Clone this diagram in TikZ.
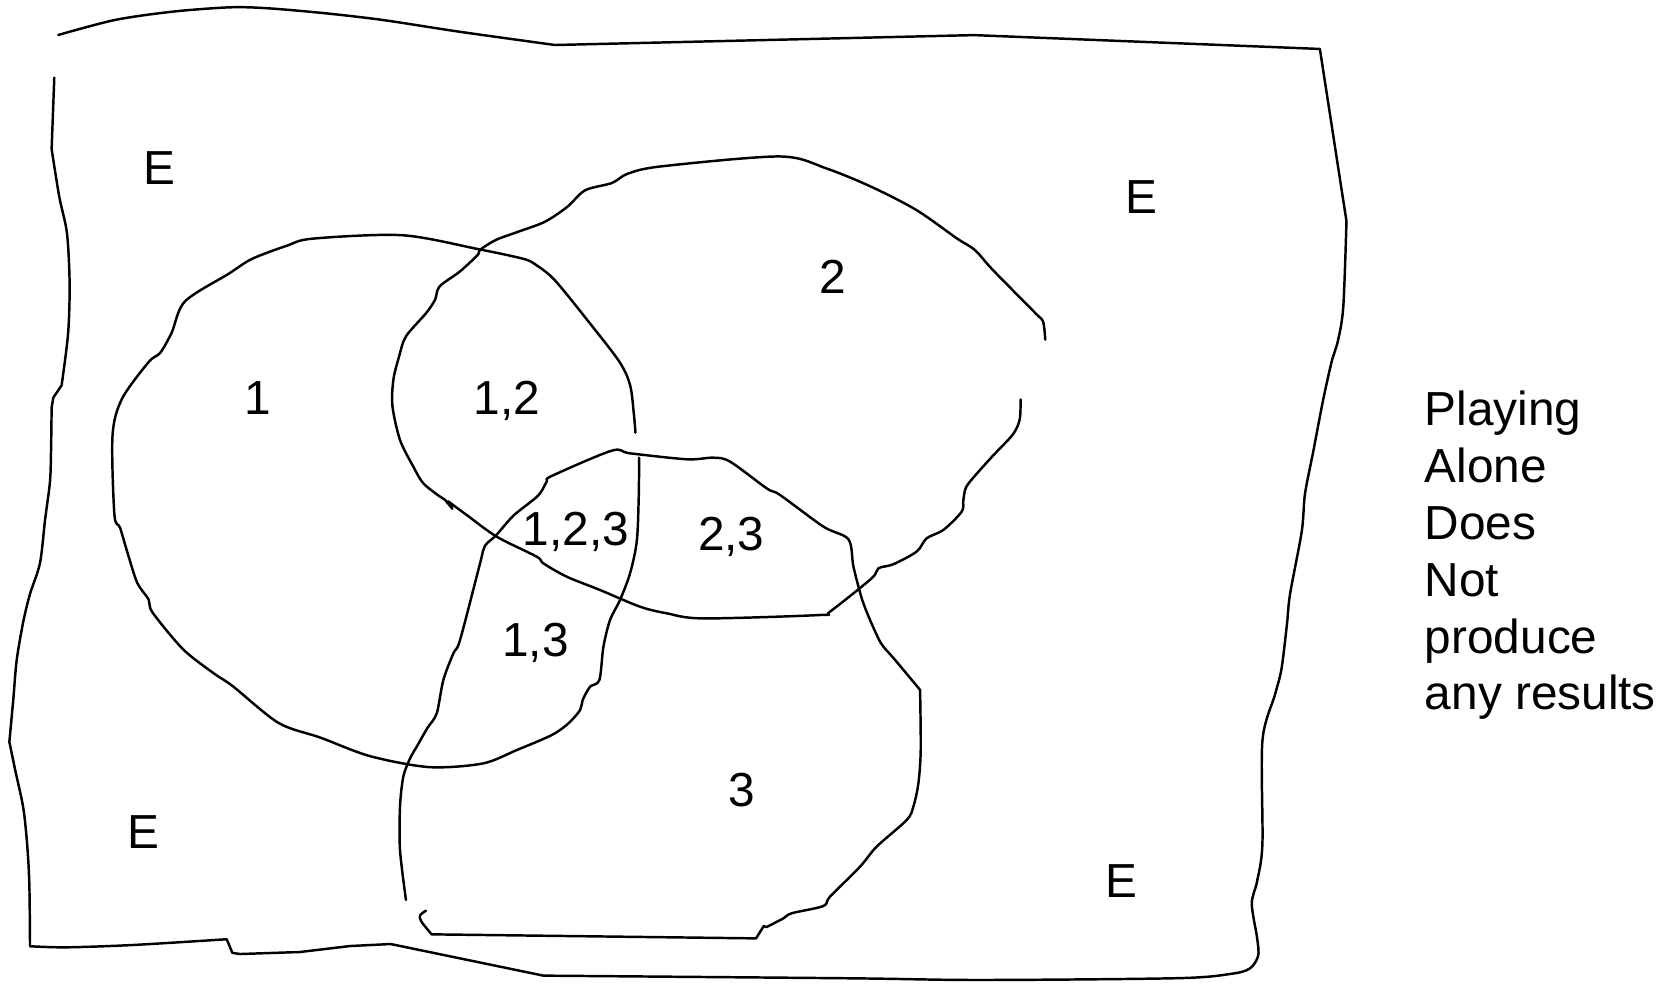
\documentclass[tikz,border=0pt]{standalone}
\usepackage{fontspec}
\setmainfont{Liberation Sans}
\usetikzlibrary{calc}

\tikzset{
  sketch/.style={line width=0.7pt, line join=round, line cap=round},
  region/.style={anchor=base, inner sep=0pt, font=\fontsize{13.6}{16}\selectfont},
}

\begin{document}
\begin{tikzpicture}[x=0.010644cm, y=-0.010644cm]
    \useasboundingbox (0,0) rectangle (1568,925);

    \draw [sketch]
      plot[smooth, tension=0.5] coordinates {(51,73) (48.5,140)}
      -- plot[smooth, tension=0.5] coordinates {(48.5,140) (55.7,185) (62.9,219) (65.4,266) (64,313) (57.9,362)}
      -- (50.1,373.5)
      -- plot[smooth, tension=0.5] coordinates {(48.5,383) (48,420) (47,452) (42.3,488.6) (37.6,528.8) (28.2,558) (21.9,584) (15.7,620) (12.5,657) (8.8,697)}
      -- plot[smooth, tension=0.5] coordinates {(8.8,697) (14.1,722.6) (21.9,759.2) (25.7,795.7) (27.6,832.3) (28.2,889)}
      -- plot[smooth, tension=0.5] coordinates {(28.2,889) (62.6,890) (125.3,887.8) (213,882.4)}
      -- (218.3,895.2) -- (225.5,896.3) -- (281.9,894.4) -- (328.8,888.8) -- (367,886.9) -- (510.5,916.6)
      -- plot[smooth, tension=0.5] coordinates {(510.5,916.6) (798.6,919.1) (920.7,920.7) (1106,919) (1156,915) (1174,910) (1182,898) (1181,881) (1176,849) (1181,828) (1186,793) (1186,696) (1198,652) (1204,628) (1209,587) (1212,558) (1223,499) (1226,464) (1234,423) (1243,376) (1251,340) (1257,320) (1262,288) (1265,208)}
      -- (1240,46) -- (915,33) -- (521.4,42.3)
      -- plot[smooth, tension=0.5] coordinates {(521.4,42.3) (431.5,29.8) (359.6,18.8) (305.7,12.5) (251.7,7.8) (215.8,6.9) (161.8,11) (107.9,18.8) (54.7,32.9)};

    \draw [sketch] plot[smooth, tension=0.5] coordinates {(600.5,430) (600,470) (598.2,508.9) (591.9,538.7) (582.5,563.7) (573.1,582.5) (566.9,607.6) (563.1,638.9) (554.3,645.2) (547.4,657.7) (545,667.1) (534,679.6) (518.3,690.6) (485.4,704.7) (453.5,717.3) (403.3,720.7) (347.7,710.4) (301.1,693) (261.7,679.2) (218.6,644.6) (200.7,632.5) (172,610) (143.3,575.4) (139.7,563.3) (129,547.7) (120,520) (112.8,495.8) (107.5,483.7) (105.7,409.3) (114.6,374.7) (139.7,340.1) (150.5,331.5) (161.3,312.5) (173.8,283.1) (215,257.1) (236.6,243.3) (268.8,231.1) (293.9,224.2) (378,221) (449,234) (491,243) (503,248.5) (521,263) (552,301) (582,340) (592,362) (595.5,389) (597,406.5)};

    \draw [sketch]
      plot[smooth, tension=0.5] coordinates {(958.8,375.3) (958,394) (951.7,408) (932.7,428.3) (915.9,447) (907.5,458) (905,470) (903.5,480.7) (886.3,497.9) (870.6,505.7) (861.2,518.2) (839.3,530.1) (825.2,533.9) (818.9,543.3) (779.8,574.6) (770.4,577.8) (660.8,581) (626.4,576.2) (601.3,570) (563.7,554.3) (532.4,541.8) (510.5,529.3) (504.2,523) (466.6,504.2) (438.4,483.8) (421,471)}
      -- (425,478) -- (418,469.5)
      -- plot[smooth, tension=0.5] coordinates {(413.4,466.6) (397.7,454.1) (388.3,438.4) (375.8,413.4) (368.7,381.5) (369.6,356.6) (375,334.7) (381.4,316) (400.3,294.2) (408.7,281.7) (412.9,269.2) (431.9,255.2) (448.7,239.6) (450.8,234.9) (465.5,225.6) (486.6,217.8) (511.8,208.4) (532.9,194.4) (549.7,178.8) (575,171.9) (589.7,163.2) (621.3,156.3) (732.8,147) (777,158.5) (819,175.7) (861.2,197.5) (899,224) (915.9,234.9) (932.7,253.6) (972.7,294.2) (979.9,302) (982,319.1)};

    \draw [sketch]
      plot[smooth, tension=0.5] coordinates {(381.4,845.5) (375.8,798.6) (375.8,757.8) (378.9,729.7) (385,713) (391.5,701.5) (401.5,684) (410.3,670.2) (416.5,638.9) (425.9,613.8) (432.2,601.3) (451,529.3) (455.5,513) (466,503) (482.4,484.4) (505.5,465.7) (513.6,452.5) (518.3,447.2) (574.7,423.4) (591.9,425.9) (645.2,431.5) (670.2,430) (685.9,433.7) (720.3,458.8) (732.9,465.1) (773.6,494.8) (797.1,506.7) (801.8,532.4) (809.6,562.2) (817.4,582.5) (825.2,599.7) (829.9,607.5) (840.9,620) (864.4,648.2)}
      -- plot[smooth, tension=0.5] coordinates {(864.4,648.2) (865,704.6) (862.8,735.9) (858.1,757.8) (851.8,770.4) (823.6,795.4) (808,814.2) (779.8,842.4) (773.5,851.2) (743.8,858) (736,862.8) (720,871)}
      -- (717.5,870) -- (710.3,881.6) -- (405.5,877.8)
      -- plot[smooth, tension=0.5] coordinates {(405.5,877.8) (396,866) (394.6,860) (400.2,855.6)};

    \node [region] (e1) at (150,173.5) {E};
    \node [region] (e2) at (1072,200.5) {E};
    \node [region] (e3) at (135,797.5) {E};
    \node [region] (e4) at (1054,843.5) {E};

    \node [region] (r1) at (242,389.5) {1};
    \node [region] (r12) at (476,389.5) {1,2};
    \node [region] (r2) at (782,275.5) {2};
    \node [region] (r123) at (541,512.5) {1,2,3};
    \node [region] (r23) at (687,517.5) {2,3};
    \node [region] (r13) at (503,616.5) {1,3};
    \node [region] (r3) at (697,757.5) {3};

    \foreach \w [count=\i] in {Playing,Alone,Does,Not,produce,any results}
      \node [region, anchor=base west] (note\i) at (1338,{400+53.4*(\i-1)}) {\w};
\end{tikzpicture}
\end{document}
